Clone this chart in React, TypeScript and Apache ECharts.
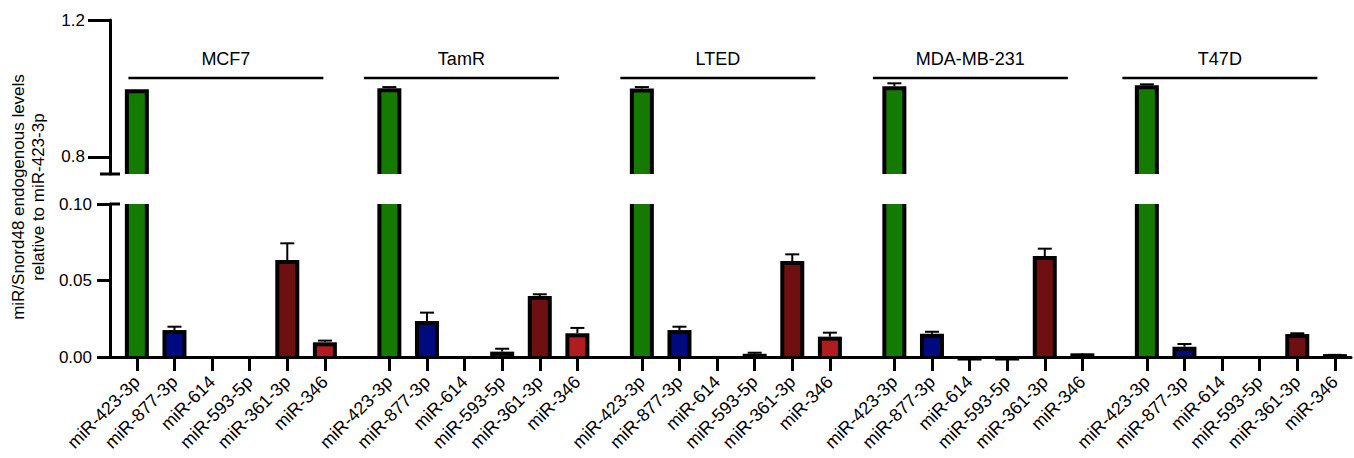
import { useEffect, useRef } from 'react';
import * as echarts from 'echarts';

// Cell lines (groups) and the miRNAs measured in each of them
const cellLines = ['MCF7', 'TamR', 'LTED', 'MDA-MB-231', 'T47D'];
const mirnas = ['miR-423-3p', 'miR-877-3p', 'miR-614', 'miR-593-5p', 'miR-361-3p', 'miR-346'];

// Mean and SD per cell line, in the order of `mirnas`
const mcf7Mean = [0.992, 0.0163, 0, 0, 0.0621, 0.0083];
const mcf7Sd = [0, 0.0035, 0, 0, 0.0122, 0.0024];
const tamrMean = [0.995, 0.0222, 0, 0.0022, 0.0386, 0.0142];
const tamrSd = [0.009, 0.0068, 0, 0.0032, 0.0024, 0.0048];
const ltedMean = [0.994, 0.0163, 0, 0.0008, 0.0614, 0.012];
const ltedSd = [0.01, 0.0035, 0, 0.002, 0.0057, 0.0039];
const mdaMean = [1.0006, 0.0139, -0.001, -0.001, 0.0647, 0.0011];
const mdaSd = [0.0144, 0.0026, 0, 0, 0.0061, 0.0003];
const t47dMean = [1.0035, 0.0054, 0, 0, 0.0137, 0.0006];
const t47dSd = [0.0085, 0.0031, 0, 0, 0.0018, 0.0008];

const groupMeans = [mcf7Mean, tamrMean, ltedMean, mdaMean, t47dMean];
const groupSds = [mcf7Sd, tamrSd, ltedSd, mdaSd, t47dSd];

// Tick values of the two axis segments
const upperTicks = [0.8, 1.2];
const lowerTicks = [0, 0.05, 0.1];

// Fill colour per miRNA
const barColors = ['#147a00', '#000a80', '#444444', '#3a2a5a', '#6e1012', '#b01c20'];

// Layout of the fine-grained category axis (units between bars)
const LEAD = 5;
const SLOT = 7;
const GROUP_GAP = 12;
const N_CAT = 232;
const GROUP_STEP = 5 * SLOT + GROUP_GAP;

const FONT = '"Liberation Sans", Arial, Helvetica, sans-serif';
const BAR_HALF = 12;
const INNER_HALF = 8;
const BORDER = 4;

// Horizontal shift (px) of each group header relative to the group centre
const headerShift = [-5, -22, -18, -18, -21];
const HEADER_LEN = 195;

const categories: string[] = new Array(N_CAT).fill('');
const barData: number[][] = [];
cellLines.forEach((_, g) => {
  mirnas.forEach((name, i) => {
    const idx = LEAD + g * GROUP_STEP + i * SLOT;
    categories[idx] = name;
    barData.push([idx, groupMeans[g][i], groupSds[g][i], i]);
  });
});

function renderBar(params: any, api: any) {
  const cs = params.coordSys;
  const top = cs.y;
  const bottom = cs.y + cs.height;
  const idx = api.value(0);
  const v = api.value(1);
  const e = api.value(2);
  const k = api.value(3);
  const children: any[] = [];
  if (v === 0) return { type: 'group', children };
  const [cx, y0] = api.coord([idx, 0]);
  const yv = api.coord([idx, v])[1];
  const base = Math.min(Math.max(y0, top), bottom);

  if (v > 0) {
    const clippedTop = yv - BORDER / 2 < top;
    const oTop = clippedTop ? top : yv - BORDER / 2;
    const iTop = clippedTop ? top : yv + BORDER / 2;
    if (oTop < base) {
      children.push({
        type: 'rect',
        shape: { x: cx - BAR_HALF, y: oTop, width: BAR_HALF * 2, height: base - oTop },
        style: { fill: '#000' },
      });
      if (iTop < base) {
        children.push({
          type: 'rect',
          shape: { x: cx - INNER_HALF, y: iTop, width: INNER_HALF * 2, height: base - iTop },
          style: { fill: barColors[k] },
        });
      }
    }
  } else if (y0 >= top && y0 <= bottom + 0.5) {
    // negative mean: a thin bar hanging below the zero line
    const oBot = yv + BORDER / 2;
    if (oBot > y0) {
      children.push({
        type: 'rect',
        shape: { x: cx - BAR_HALF, y: y0, width: BAR_HALF * 2, height: oBot - y0 },
        style: { fill: '#000' },
      });
    }
  }

  if (e > 0 && v > 0) {
    const ye = api.coord([idx, v + e])[1];
    if (ye >= top && ye <= bottom) {
      const from = Math.max(Math.min(yv - BORDER / 2, bottom), top);
      children.push({
        type: 'line',
        shape: { x1: cx, y1: ye, x2: cx, y2: from },
        style: { stroke: '#000', lineWidth: 2 },
      });
      children.push({
        type: 'line',
        shape: { x1: cx - 7, y1: ye, x2: cx + 7, y2: ye },
        style: { stroke: '#000', lineWidth: 2 },
      });
    }
  }
  return { type: 'group', children };
}

export default function App() {
  const ref = useRef<HTMLDivElement>(null);

  useEffect(() => {
    if (!ref.current) return;
    const chart = echarts.init(ref.current, null, { renderer: 'svg' });

    const xBase = {
      type: 'category',
      data: categories,
      boundaryGap: false,
    };

    chart.setOption({
      animation: false,
      backgroundColor: '#fff',
      textStyle: { fontFamily: FONT, color: '#000' },
      grid: [
        { left: 110, right: 3, top: 20, bottom: 284 },
        { left: 110, right: 3, top: 204, bottom: 101 },
      ],
      xAxis: [
        { ...xBase, gridIndex: 0, show: false },
        {
          ...xBase,
          gridIndex: 1,
          z: 5,
          axisLine: { show: true, lineStyle: { color: '#000', width: 3 } },
          axisTick: {
            show: true,
            interval: (_i: number, val: string) => val !== '',
            length: 14,
            lineStyle: { color: '#000', width: 3 },
          },
          axisLabel: {
            interval: (_i: number, val: string) => val !== '',
            rotate: 45,
            margin: 22,
            fontSize: 18,
            fontFamily: FONT,
            color: '#000',
          },
          splitLine: { show: false },
        },
      ],
      yAxis: [
        {
          type: 'value',
          gridIndex: 0,
          min: 0.75,
          max: 1.2,
          axisLine: { show: true, onZero: false, lineStyle: { color: '#000', width: 3 } },
          axisTick: { show: true, customValues: upperTicks, length: 22, lineStyle: { color: '#000', width: 3 } },
          axisLabel: {
            customValues: upperTicks,
            formatter: (v: number) => v.toFixed(1),
            margin: 25,
            fontSize: 17,
            fontFamily: FONT,
            color: '#000',
          },
          splitLine: { show: false },
        },
        {
          type: 'value',
          gridIndex: 1,
          min: 0,
          max: 0.1,
          axisLine: { show: true, onZero: false, lineStyle: { color: '#000', width: 3 } },
          axisTick: { show: true, customValues: lowerTicks, length: 13, lineStyle: { color: '#000', width: 3 } },
          axisLabel: {
            customValues: lowerTicks,
            formatter: (v: number) => v.toFixed(2),
            margin: 18,
            fontSize: 17,
            fontFamily: FONT,
            color: '#000',
          },
          splitLine: { show: false },
        },
      ],
      series: [
        {
          type: 'custom',
          xAxisIndex: 0,
          yAxisIndex: 0,
          renderItem: renderBar,
          encode: { x: 0, y: 1 },
          data: barData,
          silent: true,
        },
        {
          type: 'custom',
          xAxisIndex: 1,
          yAxisIndex: 1,
          renderItem: renderBar,
          encode: { x: 0, y: 1 },
          data: barData,
          silent: true,
        },
      ],
    });

    // Axis-break caps, group headers and the axis title
    const axisX = chart.convertToPixel({ gridIndex: 1 }, [0, 0])[0];
    const upperBottom = chart.convertToPixel({ yAxisIndex: 0 }, 0.75);
    const lowerTop = chart.convertToPixel({ yAxisIndex: 1 }, 0.1);
    const graphic: any[] = [
      {
        type: 'line',
        shape: { x1: axisX - 10, y1: upperBottom, x2: axisX + 10, y2: upperBottom },
        style: { stroke: '#000', lineWidth: 3 },
      },
      {
        type: 'line',
        shape: { x1: axisX, y1: lowerTop, x2: axisX + 10, y2: lowerTop },
        style: { stroke: '#000', lineWidth: 3 },
      },
      {
        type: 'text',
        x: 28,
        y: 197,
        rotation: Math.PI / 2,
        style: {
          text: 'miR/Snord48 endogenous levels\nrelative to miR-423-3p',
          fontSize: 17,
          fontFamily: FONT,
          fill: '#000',
          align: 'center',
          verticalAlign: 'middle',
          lineHeight: 20,
        },
      },
    ];
    cellLines.forEach((name, g) => {
      const first = LEAD + g * GROUP_STEP;
      const last = first + 5 * SLOT;
      const x1 = chart.convertToPixel({ xAxisIndex: 1 }, first);
      const x2 = chart.convertToPixel({ xAxisIndex: 1 }, last);
      const cx = (x1 + x2) / 2 + headerShift[g];
      graphic.push({
        type: 'line',
        shape: { x1: cx - HEADER_LEN / 2, y1: 78, x2: cx + HEADER_LEN / 2, y2: 78 },
        style: { stroke: '#000', lineWidth: 2.5 },
      });
      graphic.push({
        type: 'text',
        x: cx,
        y: 59,
        style: {
          text: name,
          fontSize: 18,
          fontFamily: FONT,
          fill: '#000',
          align: 'center',
          verticalAlign: 'middle',
        },
      });
    });
    chart.setOption({ graphic });

    return () => chart.dispose();
  }, []);

  return (
    <div
      ref={ref}
      style={{ position: 'fixed', left: 0, top: 0, width: 1354, height: 458, background: '#fff' }}
    />
  );
}
